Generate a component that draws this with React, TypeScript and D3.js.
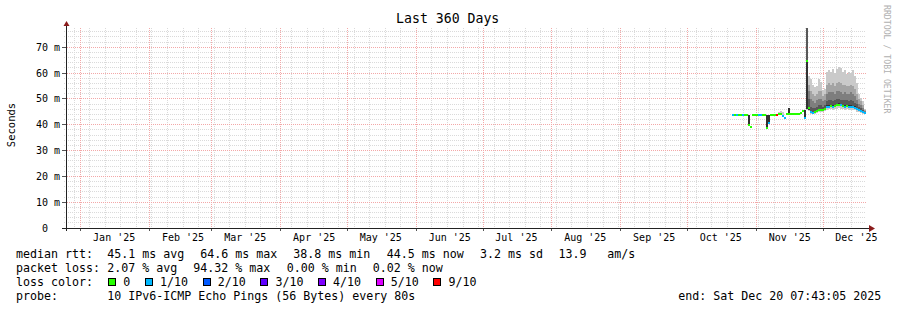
import React from "react";
import * as d3 from "d3";

// ---------- chart text / axis data ----------
const TITLE = "Last 360 Days";
const Y_LABEL = "Seconds";
const WATERMARK = "RRDTOOL / TOBI OETIKER";
const END_TIME = "2025-12-20T07:43:05Z";
const RANGE_DAYS = 360;
const Y_MAX_MS = 77.42;
const Y_MAJOR_MS = [0, 10, 20, 30, 40, 50, 60, 70];
const Y_MAJOR_LABELS = ["0", "10", "20", "30", "40", "50", "60", "70"];
const Y_MINOR_STEP_MS = 2;

// ---------- samples (one every 0.9 day) ----------
const SAMPLE_START = "2025-10-21T00:31:05Z";
const SAMPLE_STEP_S = 77760;

const rttMedian = [
  43.9, 43.8, 43.6, 43.8, 43.9, 43.6, 43.8, 43.8, 40.0, 39.2,
  43.8, 43.7, 43.8, 43.6, 43.7, 43.8, 43.8, 38.8, 40.6, 43.7,
  43.7, 43.8, 43.8, 44.0, 44.0, 43.4, 42.6, 44.0, 44.2, 44.2,
  44.1, 44.2, 44.1, 44.2, 44.7, 45.1, 42.4, 64.6, 46.3, 44.8,
  44.6, 45.0, 45.3, 45.6, 45.8, 45.8, 46.0, 47.0, 47.0, 47.2,
  47.0, 47.3, 47.6, 47.8, 47.5, 47.2, 47.0, 47.3, 47.0, 47.0,
  46.8, 46.6, 46.0, 45.5, 45.3, 44.8, 44.5,
];

const lossTenths = [
  1, 0, 1, 0, 0, 1, 0, 0, 0, 0,
  0, 0, 0, 1, 1, 0, 0, 0, 1, 0,
  0, 0, 9, 0, 0, 1, 1, 0, 0, 0,
  0, 0, 0, 0, 0, 0, 1, 0, 0, 1,
  1, 0, 0, 0, 0, 0, 0, 1, 1, 0,
  1, 0, 0, 0, 1, 0, 1, 0, 1, 1,
  1, 1, 1, 1, 1, 1, 1,
];

const N = null;
const pingMin = [
  N, N, N, N, N, N, N, N, 40.0, N,
  N, N, N, N, N, N, N, 38.8, 40.6, N,
  N, N, N, 44.0, 44.0, 43.4, N, N, 44.2, N,
  N, N, N, N, N, N, 42.4, 45.5, 45.3, 44.2,
  44.0, 44.3, 44.5, 44.8, 45.0, 45.0, 45.2, 45.8, 46.0, 46.0,
  45.8, 46.0, 46.2, 46.4, 46.2, 46.0, 45.8, 46.0, 45.8, 45.8,
  45.6, 45.5, 45.0, 44.8, 44.6, 44.2, 44.0,
];
const pingP5 = [
  N, N, N, N, N, N, N, N, 40.0, N,
  N, N, N, N, N, N, N, 38.8, 40.6, N,
  N, N, N, 44.0, 44.0, 43.4, N, N, 44.2, N,
  N, N, N, N, N, N, 42.4, 46.0, 45.8, 44.5,
  44.3, 44.7, 45.0, 45.3, 45.5, 45.5, 45.7, 46.6, 46.6, 46.8,
  46.6, 46.9, 47.2, 47.4, 47.1, 46.8, 46.6, 46.9, 46.6, 46.6,
  46.4, 46.2, 45.6, 45.2, 45.0, 44.5, 44.3,
];
const pingP6 = [
  N, N, N, N, N, N, N, N, 43.8, N,
  N, N, N, N, N, N, N, 43.8, 43.7, N,
  N, N, N, 44.0, 44.0, 43.4, N, N, 46.6, N,
  N, N, N, N, N, N, 45.5, 64.6, 47.0, 45.2,
  45.0, 45.4, 45.7, 46.0, 46.2, 46.2, 46.4, 47.5, 47.5, 47.7,
  47.5, 47.8, 48.1, 48.3, 48.0, 47.7, 47.5, 47.8, 47.5, 47.5,
  47.3, 47.1, 46.5, 46.0, 45.7, 45.2, 44.8,
];
const pingP7 = [
  N, N, N, N, N, N, N, N, 43.8, N,
  N, N, N, N, N, N, N, 43.8, 43.7, N,
  N, N, N, 44.0, 44.0, 43.4, N, N, 46.6, N,
  N, N, N, N, N, N, 45.5, 77.3, 50.0, 47.0,
  46.5, 46.5, 47.0, 47.5, 47.5, 47.0, 47.5, 49.0, 49.5, 49.5,
  49.0, 49.5, 50.0, 50.0, 49.5, 49.5, 49.5, 49.5, 49.0, 49.5,
  49.0, 48.5, 48.0, 47.0, 46.5, 45.8, 45.0,
];
const pingP8 = [
  N, N, N, N, N, N, N, N, 43.8, N,
  N, N, N, N, N, N, N, 43.8, 43.7, N,
  N, N, N, 44.0, 44.0, 43.4, N, N, 46.6, N,
  N, N, N, N, N, N, 45.5, 77.3, 53.0, 50.0,
  49.0, 48.5, 49.5, 50.0, 50.0, 49.0, 49.5, 52.0, 52.5, 52.5,
  52.5, 52.0, 53.0, 53.0, 52.5, 52.0, 52.5, 52.0, 52.0, 52.5,
  52.0, 51.0, 49.5, 48.0, 47.5, 46.5, 45.3,
];
const pingP9 = [
  N, N, N, N, N, N, N, N, 43.8, N,
  N, N, N, N, N, N, N, 43.8, 43.7, N,
  N, N, N, 44.0, 44.0, 43.4, N, N, 46.6, N,
  N, N, N, N, N, N, 45.5, 77.3, 55.5, 53.0,
  52.0, 51.0, 52.0, 53.0, 53.0, 51.0, 52.0, 55.5, 56.0, 55.5,
  56.0, 55.0, 56.0, 56.5, 56.0, 55.5, 55.5, 55.0, 55.0, 55.5,
  55.0, 54.0, 52.0, 50.0, 49.0, 47.5, 45.5,
];
const pingMax = [
  N, N, N, N, N, N, N, N, 43.8, N,
  N, N, N, N, N, N, N, 43.8, 43.7, N,
  N, N, N, 45.0, 45.2, 44.8, N, N, 46.6, N,
  N, N, N, N, N, N, 45.5, 77.3, 59.0, 57.5,
  55.5, 54.5, 55.0, 57.5, 56.5, 53.5, 54.0, 60.5, 61.0, 60.5,
  61.5, 60.0, 61.5, 62.5, 62.0, 60.5, 61.0, 59.5, 60.5, 60.0,
  61.0, 59.0, 56.0, 52.0, 50.5, 49.0, 46.0,
];

// ---------- legend ----------
const lossLevels = [0, 1, 2, 3, 4, 5, 9];
const lossLabels = ["0", "1/10", "2/10", "3/10", "4/10", "5/10", "9/10"];
const lossColors = ["#26ff00", "#00b8ff", "#0059ff", "#5e00ff", "#7e00ff", "#dd00ff", "#ff0000"];

const rttRow = ["median rtt:", "45.1 ms avg", "64.6 ms max", "38.8 ms min", "44.5 ms now", "3.2 ms sd", "13.9", "am/s"];
const rttRowX = [16, 107.3, 200.3, 293.3, 386.7, 480, 558.5, 607.3];
const lossRow = ["packet loss:", "2.07 % avg", "94.32 % max", "0.00 % min", "0.02 % now"];
const lossRowX = [16, 107.3, 193.3, 286.7, 372.7];
const probeLabel = "probe:";
const probeText = "10 IPv6-ICMP Echo Pings (56 Bytes) every 80s";
const endText = "end: Sat Dec 20 07:43:05 2025";

const MONO = "'DejaVu Sans Mono', monospace";
const W = 897;
const H = 310;
const PL = 66, PR = 866, PT = 28, PB = 228;
const CHAR_W = 7;

const bandColors = ["#cacaca", "#a4a4a4", "#7e7e7e", "#585858", "#323232"];

export default function App() {
  const end = new Date(END_TIME);
  const start = d3.utcDay.offset(end, -RANGE_DAYS);
  const x = d3.scaleUtc().domain([start, end]).range([PL, PR]);
  const y = d3.scaleLinear().domain([0, Y_MAX_MS]).range([PB, PT]);
  const t0 = new Date(SAMPLE_START).getTime();
  const tAt = (i: number) => new Date(t0 + i * SAMPLE_STEP_S * 1000);

  const px = (v: number) => Math.floor(v) + 0.5;

  const months = d3.utcMonth.range(start, end);
  const weeks = d3.utcSunday.range(start, end);
  const minorY = d3.range(0, Y_MAX_MS, Y_MINOR_STEP_MS).filter((v) => v % 10 !== 0);

  const minorCol = "#dadada";
  const majorCol = "#f3a8a8";

  // smoke rects
  const smoke: JSX.Element[] = [];
  rttMedian.forEach((_, i) => {
    if (pingMin[i] == null) return;
    const x0 = Math.round(x(tAt(i)));
    const x1 = Math.round(x(tAt(i + 1)));
    const bands: [number, number][] = [
      [pingMin[i] as number, pingMax[i] as number],
      [pingP5[i] as number, pingP9[i] as number],
      [pingP5[i] as number, pingP8[i] as number],
      [pingP5[i] as number, pingP7[i] as number],
      [pingP5[i] as number, pingP6[i] as number],
    ];
    bands.forEach(([lo, hi], b) => {
      const yt = Math.round(y(hi));
      const yb = Math.round(y(lo));
      if (yb - yt <= 0) return;
      smoke.push(
        <rect key={`s${i}-${b}`} x={x0} y={yt} width={x1 - x0} height={yb - yt} fill={bandColors[b]} />
      );
    });
  });

  const medians = rttMedian.map((m, i) => {
    const x0 = Math.round(x(tAt(i)));
    const x1 = Math.round(x(tAt(i + 1)));
    const c = lossColors[lossLevels.indexOf(lossTenths[i])];
    return <rect key={`m${i}`} x={x0} y={Math.round(y(m)) - 1} width={x1 - x0} height={2} fill={c} />;
  });

  // legend swatch positions
  const swatches: { x: number; label: string; color: string }[] = [];
  let bx = 108.3;
  lossLabels.forEach((lab, k) => {
    swatches.push({ x: bx, label: lab, color: lossColors[k] });
    bx += 15 + lab.length * CHAR_W + 14.7;
  });

  const legendFont = { fontFamily: MONO, fontSize: 11.63, fill: "#000" } as const;

  return (
    <svg
      width={W}
      height={H}
      viewBox={`0 0 ${W} ${H}`}
      style={{ position: "absolute", left: 0, top: 0, background: "#fff" }}
    >
      <rect x={0} y={0} width={W} height={H} fill="#fff" />
      {/* grid */}
      <g shapeRendering="crispEdges" strokeWidth={1} strokeDasharray="1,1">
        {minorY.map((v) => (
          <line key={`hy${v}`} x1={64} x2={PR} y1={px(y(v))} y2={px(y(v))} stroke={minorCol} />
        ))}
        {weeks.map((d) => (
          <line key={`wx${+d}`} x1={px(x(d))} x2={px(x(d))} y1={PT} y2={PB + 2} stroke={minorCol} />
        ))}
        {Y_MAJOR_MS.filter((v) => v > 0).map((v) => (
          <line key={`Hy${v}`} x1={63} x2={PR} y1={px(y(v))} y2={px(y(v))} stroke={majorCol} />
        ))}
        {months.map((d) => (
          <line key={`Mx${+d}`} x1={px(x(d))} x2={px(x(d))} y1={PT} y2={PB + 3} stroke={majorCol} />
        ))}
      </g>
      {/* ticks */}
      <g shapeRendering="crispEdges" stroke="#555" strokeWidth={1}>
        {Y_MAJOR_MS.map((v) => (
          <line key={`ty${v}`} x1={62} x2={66} y1={px(y(v))} y2={px(y(v))} />
        ))}
        {months.map((d) => (
          <line key={`tx${+d}`} x1={px(x(d))} x2={px(x(d))} y1={PB} y2={PB + 3} />
        ))}
      </g>
      {/* data */}
      <g shapeRendering="crispEdges">{smoke}</g>
      <g shapeRendering="crispEdges">{medians}</g>
      {/* axes */}
      <g shapeRendering="crispEdges" stroke="#222" strokeWidth={1}>
        <line x1={62} x2={870} y1={PB + 0.5} y2={PB + 0.5} />
        <line x1={PL + 0.5} x2={PL + 0.5} y1={PB + 3} y2={25} />
      </g>
      <polygon points={`${PL - 2.5},26 ${PL + 3.5},26 ${PL + 0.5},21`} fill="#8b1c1c" />
      <polygon points={`869,225 869,232 875,228.5`} fill="#8b1c1c" />
      {/* y labels */}
      <g style={{ fontFamily: MONO, fontSize: 10 }} fill="#000">
        {Y_MAJOR_MS.map((v, k) => (
          <g key={`yl${v}`}>
            <text x={48} y={px(y(v)) + 3.5} textAnchor="end">
              {Y_MAJOR_LABELS[k]}
            </text>
            {v > 0 && (
              <text x={54} y={px(y(v)) + 3.5}>
                m
              </text>
            )}
          </g>
        ))}
        {months.map((d) => (
          <text key={`xl${+d}`} x={x(d3.utcDay.offset(d, 15))} y={241} textAnchor="middle">
            {d3.utcFormat("%b '%y")(d)}
          </text>
        ))}
      </g>
      <text
        transform="translate(15,125) rotate(-90)"
        textAnchor="middle"
        style={{ fontFamily: MONO, fontSize: 10.5 }}
        fill="#000"
      >
        {Y_LABEL}
      </text>
      <text x={447.7} y={23.3} textAnchor="middle" style={{ fontFamily: MONO, fontSize: 13.2 }} fill="#000">
        {TITLE}
      </text>
      <text transform="translate(884,5) rotate(90)" style={{ fontFamily: MONO, fontSize: 8.2 }} fill="#b0b0b0">
        {WATERMARK}
      </text>
      {/* legend */}
      <g style={legendFont}>
        {rttRow.map((s, k) => (
          <text key={`r${k}`} x={rttRowX[k]} y={257.5}>
            {s}
          </text>
        ))}
        {lossRow.map((s, k) => (
          <text key={`l${k}`} x={lossRowX[k]} y={271.6}>
            {s}
          </text>
        ))}
        <text x={16} y={285.7}>
          loss color:
        </text>
        {swatches.map((s) => (
          <g key={`sw${s.label}`}>
            <rect x={Math.round(s.x) + 0.5} y={278.5} width={7} height={7} fill={s.color} stroke="#000" shapeRendering="crispEdges" />
            <text x={s.x + 15} y={285.7}>
              {s.label}
            </text>
          </g>
        ))}
        <text x={16} y={299.8}>
          {probeLabel}
        </text>
        <text x={107.3} y={299.8}>
          {probeText}
        </text>
        <text x={678.3} y={299.8}>
          {endText}
        </text>
      </g>
    </svg>
  );
}
